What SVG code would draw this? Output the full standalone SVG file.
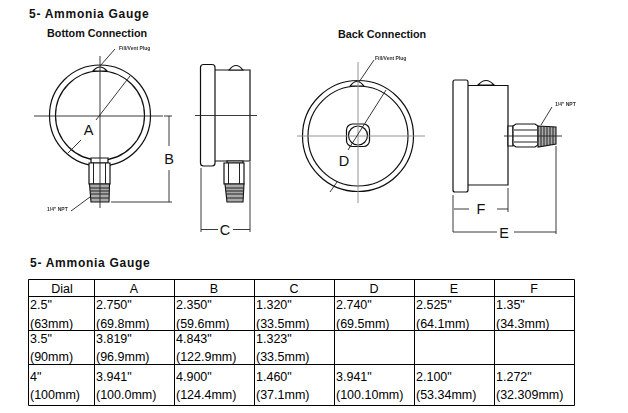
<svg xmlns="http://www.w3.org/2000/svg" width="628" height="413" viewBox="0 0 628 413">
<defs>
<filter id="soft" x="-5%" y="-5%" width="110%" height="110%"><feGaussianBlur stdDeviation="0.3"/></filter>
</defs>
<style>
.l{fill:none;stroke:#222;stroke-width:1}
.c{fill:none;stroke:#222;stroke-width:.9}
.g{fill:none;stroke:#888;stroke-width:.9}
.w{fill:#fff;stroke:#111;stroke-width:1.2}
.th{fill:#aaa;stroke:#111;stroke-width:1.1}
.h{font:bold 12px "Liberation Sans",Arial,sans-serif;fill:#111}
.s{font:bold 10.8px "Liberation Sans",Arial,sans-serif;fill:#111}
.n{font:bold 5px "Liberation Sans",Arial,sans-serif;fill:#333}
.d{font:14.500px "Liberation Sans",Arial,sans-serif;fill:#111;text-anchor:middle}
.t{font:12.5px "Liberation Sans",Arial,sans-serif;fill:#000}
.m{text-anchor:middle}
.b{fill:none;stroke:#000;stroke-width:1}
</style>
<rect width="628" height="413" fill="#fff"/>
<g id="titles">
<text class="h" x="29" y="18" style="letter-spacing:.72px">5- Ammonia Gauge</text>
<text class="s" x="47" y="37">Bottom Connection</text>
<text class="s" x="338" y="38">Back Connection</text>
<text class="h" x="30" y="267" style="letter-spacing:.72px">5- Ammonia Gauge</text>
</g>
<g id="gauge-bottom-front" filter="url(#soft)">
<circle class="w" cx="100" cy="115.500" r="50.500"/>
<circle class="w" cx="100" cy="115.500" r="44.500"/>
<path class="w" d="M93 71Q100 63 107 71Z"/>
<path class="w" d="M91 158H108V163H91Z"/>
<path class="w" d="M89 163H110V184H89Z"/>
<path class="l" d="M93.500 163V184M105.500 163V184"/>
<path class="th" d="M89.500 184H109.500L109 202H91Z"/>
<path class="l" d="M90 188H109M90 191H109M90 194H109M91 198H109"/>
<text class="n" x="119" y="49.500">Fill/Vent Plug</text>
<text class="n" x="47" y="211">1/4" NPT</text>
</g>
<g id="gauge-bottom-side" filter="url(#soft)">
<path class="w" d="M215 70H250V161H215"/>
<rect class="w" x="200.500" y="64.500" width="14.500" height="101.500" rx="3"/>
<path class="w" d="M229 70Q236 61 243 70Z"/>
<path class="w" d="M227 161H243V163H227Z"/>
<path class="w" d="M224 163H244V184H224Z"/>
<path class="l" d="M228.500 163V184M239.500 163V184"/>
<path class="th" d="M225 184H244L243 202H227Z"/>
<path class="l" d="M226 188H244M226 191H244M226 194H243M227 198H243"/>
</g>
<g id="gauge-back-front" filter="url(#soft)">
<circle class="w" cx="358" cy="136" r="55.500"/>
<circle class="w" cx="358" cy="136" r="50"/>
<path class="w" d="M350 86Q357 77 364 86Z"/>
<rect class="w" x="346.500" y="124" width="23" height="22.500" rx="6"/>
<circle class="w" cx="358" cy="135.500" r="9.500"/>
<text class="n" x="375" y="60">Fill/Vent Plug</text>
</g>
<g id="gauge-back-side" filter="url(#soft)">
<path class="w" d="M468 85.500H508V185H468"/>
<rect class="w" x="453" y="80" width="15" height="112" rx="2"/>
<path class="w" d="M478 85Q486 76 494 85Z"/>
<path class="w" d="M508 126H513V146H508Z"/>
<path class="w" d="M513 126L516 124H535L538 126V145L535 147H516L513 145Z"/>
<path class="l" d="M514 130H537M514 142H537"/>
<path class="th" d="M538 126L556 127V144L538 147Z"/>
<path class="l" d="M541 126V146M544 126V146M547 126V146M550 127V145M553 127V145"/>
<text class="n" x="555" y="106">1/4" NPT</text>
</g>
<g id="connectors" filter="url(#soft)">
<path class="c" d="M34 116H163M100 56V208M96 120L130 76M68 153L81 140"/>
<path class="c" d="M115 49L100 66M71 211L90 197"/>
<path class="c" d="M164 116H172M111 202H172M169 116V146M169 170V202"/>
<path class="c" d="M195 115.500H257M201 168V232M250 162V232M201 229.500H218M233 229.500H250"/>
<path class="g" d="M297 136H425M358 62V203"/>
<path class="c" d="M386 90L348 150M337 182L330 192"/>
<path class="c" d="M374 60L359 82"/>
<path class="c" d="M504 136H562M541 125L552 107"/>
<path class="c" d="M453 195V232M508 188V212M556 146V234M454 209H469M497 209H508M453 232H497M514 232H556"/>
</g>
<g id="dimension-labels">
<text class="d" x="88.500" y="135">A</text>
<text class="d" x="169" y="163.500">B</text>
<text class="d" x="225" y="235">C</text>
<text class="d" x="344" y="166">D</text>
<text class="d" x="504" y="238">E</text>
<text class="d" x="481" y="214">F</text>
</g>
<g id="table">
<path class="b" d="M28.500 279.500H574.500V405.500H28.500ZM28.500 296.500H574.500M28.500 330.500H574.500M28.500 364.500H574.500M94.500 279.500V405.500M174.500 279.500V405.500M254.500 279.500V405.500M334.500 279.500V405.500M414.500 279.500V405.500M494.500 279.500V405.500"/>
<g class="t">
<text class="m" x="62" y="293">Dial</text><text class="m" x="134" y="293">A</text><text class="m" x="214" y="293">B</text><text class="m" x="294" y="293">C</text><text class="m" x="374" y="293">D</text><text class="m" x="454" y="293">E</text><text class="m" x="534" y="293">F</text>
<text x="30" y="309">2.5"</text><text x="30" y="328">(63mm)</text>
<text x="96" y="309">2.750"</text><text x="96" y="328">(69.8mm)</text>
<text x="176" y="309">2.350"</text><text x="176" y="328">(59.6mm)</text>
<text x="256" y="309">1.320"</text><text x="256" y="328">(33.5mm)</text>
<text x="336" y="309">2.740"</text><text x="336" y="328">(69.5mm)</text>
<text x="416" y="309">2.525"</text><text x="416" y="328">(64.1mm)</text>
<text x="496" y="309">1.35"</text><text x="496" y="328">(34.3mm)</text>
<text x="30" y="343">3.5"</text><text x="30" y="361">(90mm)</text>
<text x="96" y="343">3.819"</text><text x="96" y="361">(96.9mm)</text>
<text x="176" y="343">4.843"</text><text x="176" y="361">(122.9mm)</text>
<text x="256" y="343">1.323"</text><text x="256" y="361">(33.5mm)</text>
<text x="30" y="381">4"</text><text x="30" y="399">(100mm)</text>
<text x="96" y="381">3.941"</text><text x="96" y="399">(100.0mm)</text>
<text x="176" y="381">4.900"</text><text x="176" y="399">(124.4mm)</text>
<text x="256" y="381">1.460"</text><text x="256" y="399">(37.1mm)</text>
<text x="336" y="381">3.941"</text><text x="336" y="399">(100.10mm)</text>
<text x="416" y="381">2.100"</text><text x="416" y="399">(53.34mm)</text>
<text x="496" y="381">1.272"</text><text x="496" y="399">(32.309mm)</text>
</g>
</g>
</svg>
